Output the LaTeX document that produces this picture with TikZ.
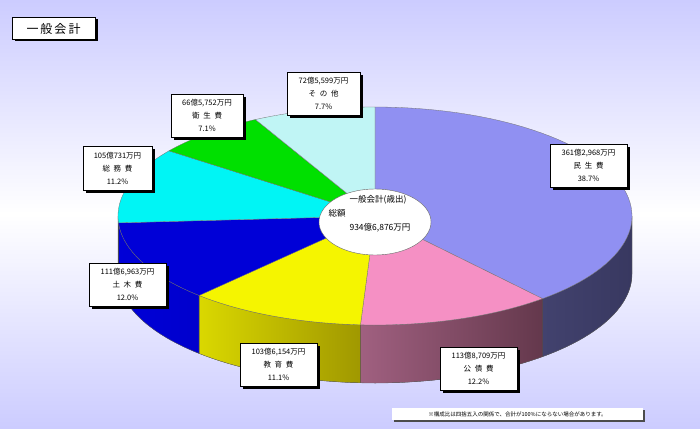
\documentclass[tikz,border=0pt]{standalone}
\usepackage{fontspec}
\setmainfont{Noto Sans CJK JP}
\usetikzlibrary{shapes.geometric}
\definecolor{bgc}{RGB}{204,204,255}
\definecolor{msA}{RGB}{66,66,110}\definecolor{msB}{RGB}{56,56,96}
\definecolor{ksA}{RGB}{160,96,128}\definecolor{ksB}{RGB}{100,56,76}
\definecolor{ysA}{RGB}{218,216,0}\definecolor{ysB}{RGB}{160,152,0}
\definecolor{dsA}{RGB}{0,0,215}\definecolor{dsB}{RGB}{0,0,205}
\definecolor{csA}{RGB}{0,200,200}
\definecolor{tMin}{RGB}{144,144,242}
\definecolor{tKos}{RGB}{245,144,196}
\definecolor{tKyo}{RGB}{245,245,0}
\definecolor{tDob}{RGB}{0,0,215}
\definecolor{tSom}{RGB}{0,245,245}
\definecolor{tEis}{RGB}{0,224,0}
\definecolor{tSon}{RGB}{192,245,245}
\begin{document}
\begin{tikzpicture}[x=1pt,y=-1pt]
\def\cx{375}\def\cy{216}\def\rx{257}\def\ry{109}\def\dp{58}
\useasboundingbox (0,0) rectangle (700,428);
\shade[top color=bgc,bottom color=bgc,middle color=white] (0,0) rectangle (700,428);
% sides
\newcommand\sidepart[4]{%
 \fill[left color=#3,right color=#4,draw=black!60,line width=0.3pt] plot[domain=#1:#2,samples=40] ({\cx+\rx*cos(\x)},{\cy-\ry*sin(\x)}) -- plot[domain=#2:#1,samples=40] ({\cx+\rx*cos(\x)},{\cy+\dp-\ry*sin(\x)}) -- cycle;}
\sidepart{0}{-49.32}{msA}{msB}
\sidepart{-49.32}{-93.24}{ksA}{ksB}
\sidepart{-93.24}{-133.2}{ysA}{ysB}
\sidepart{-133.2}{-176.4}{dsA}{dsB}
\sidepart{-176.4}{-180}{csA}{csA}
% top
\newcommand\toppart[3]{%
 \fill[fill=#3,draw=black!55,line width=0.3pt] (\cx,\cy) -- plot[domain=#1:#2,samples=60] ({\cx+\rx*cos(\x)},{\cy-\ry*sin(\x)}) -- cycle;}
\toppart{90}{-49.32}{tMin}
\toppart{-49.32}{-93.24}{tKos}
\toppart{-93.24}{-133.2}{tKyo}
\toppart{-133.2}{-176.4}{tDob}
\toppart{-176.4}{-216.72}{tSom}
\toppart{-216.72}{-242.28}{tEis}
\toppart{-242.28}{-270}{tSon}
% center
\node[draw=black!60,fill=white,ellipse,minimum width=112pt,minimum height=66pt] (ctr) at (375,222) {};
\node[font=\fontsize{8.5}{10}\selectfont] (c1) at (378,199) {一般会計(歳出)};
\node[font=\fontsize{8.5}{10}\selectfont] (c2) at (337,213) {総額};
\node[font=\fontsize{8.5}{10}\selectfont] (c3) at (380,227) {934億6,876万円};
% labels
\newcommand\labbox[6]{%
 \fill[black] (#2+2.5,#3+2.5) rectangle (#4+2.5,#5+2.5);
 \node[draw=black,fill=white,line width=0.5pt,minimum width=#4-#2,minimum height=#5-#3,inner sep=0pt,align=center,font=\fontsize{7.5}{13}\selectfont] (#1) at ({(#2+#4)/2},{(#3+#5)/2}) {#6};}
\labbox{sonota}{287}{72}{360}{115}{72億5,599万円\\そ\enspace の\enspace 他\\7.7\%}
\labbox{eisei}{171}{94}{243}{137}{66億5,752万円\\衛\enspace 生\enspace 費\\7.1\%}
\labbox{somu}{83}{146}{152}{190}{105億731万円\\総\enspace 務\enspace 費\\11.2\%}
\labbox{minsei}{550}{144}{627}{187}{361億2,968万円\\民\enspace 生\enspace 費\\38.7\%}
\labbox{doboku}{89}{263}{166}{306}{111億6,963万円\\土\enspace 木\enspace 費\\12.0\%}
\labbox{kyoiku}{240}{343}{317}{386}{103億6,154万円\\教\enspace 育\enspace 費\\11.1\%}
\labbox{kosai}{440}{347}{517}{390}{113億8,709万円\\公\enspace 債\enspace 費\\12.2\%}
% title
\fill[black] (14.5,19.5) rectangle (97.5,41.5);
\node[draw=black,fill=white,line width=0.6pt,minimum width=83pt,minimum height=22pt,inner sep=0pt,font=\fontsize{12}{14}\selectfont] (title) at (53.5,28) {一\,般\,会\,計};
% footnote
\fill[black!70] (394,410) rectangle (645,422);
\node[fill=white,minimum width=251pt,minimum height=12pt,inner sep=0pt,font=\fontsize{5.5}{7}\selectfont] (note) at (517.5,414) {※構成比は四捨五入の関係で、合計が100\%にならない場合があります。};
\end{tikzpicture}
\end{document}
